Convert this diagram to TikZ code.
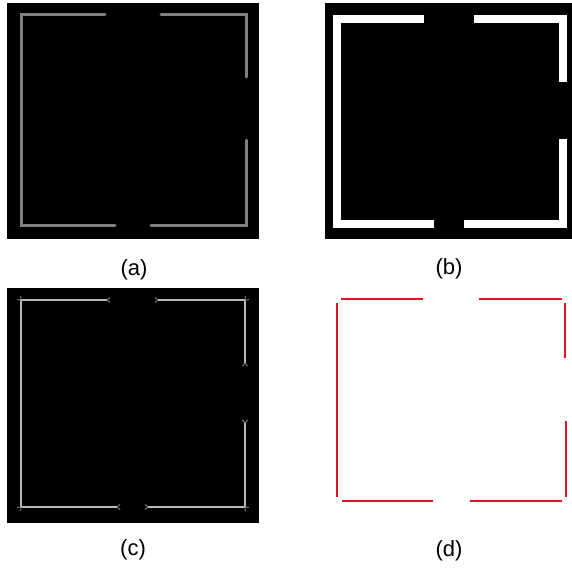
\documentclass[tikz,border=0pt]{standalone}
\usepackage{fontspec}
\setmainfont{Liberation Sans}
\definecolor{edgered}{RGB}{222,24,34}
\begin{document}
\begin{tikzpicture}[x = 1pt, y = -1pt,
        panel/.style = {color = black, fill = black},
        edgeA/.style = {color = black!50, line width = 3pt, line cap = round},
        edgeB/.style = {color = white, line width = 8pt, line cap = butt, miter limit = 10},
        edgeC/.style = {color = black!28, line width = 1.8pt},
        spurC/.style = {color = black!55, line width = 1pt},
        edgeD/.style = {color = edgered, line width = 2.6pt}]
        \useasboundingbox [fill = white] (0,0) rectangle (572,568);
        % (a)
        \draw [panel] (7,3) rectangle (258,238);
        \draw [edgeA] (105,14) -- (21,14) -- (21,225) -- (115,225);
        \draw [edgeA] (161,14) -- (246,14) -- (246,77);
        \draw [edgeA] (246,140) -- (246,225) -- (151,225);
        % (b)
        \draw [panel] (325,3) rectangle (571,238);
        \draw [edgeB] (424,19) -- (337,19) -- (337,224) -- (434,224);
        \draw [edgeB] (474,19) -- (562.5,19) -- (562.5,82);
        \draw [edgeB] (562.5,139) -- (562.5,224) -- (464,224);
        % (c)
        \draw [panel] (7,288) rectangle (258,522);
        \draw [edgeC] (107,300) -- (21,300) -- (21,507) -- (117,507);
        \draw [edgeC] (158,300) -- (245,300) -- (245,363);
        \draw [edgeC] (245,423) -- (245,507) -- (148,507);
        \foreach \px/\py/\ang in {107/300/0, 117/507/0, 158/300/180, 148/507/180,
                245/363/90, 245/423/270, 21/300/225, 21/507/135, 245/300/315, 245/507/45}
            \draw [spurC] (\px,\py) -- ++(\ang+40:4) (\px,\py) -- ++(\ang-40:4);
        % (d)
        \draw [edgeD] (341,299) -- (423,299);
        \draw [edgeD] (337,303) -- (337,497);
        \draw [edgeD] (342,501) -- (433,501);
        \draw [edgeD] (479,299) -- (562,299);
        \draw [edgeD] (565,303) -- (565,358);
        \draw [edgeD] (566,421) -- (566,497);
        \draw [edgeD] (470,501) -- (562,501);
        \begin{scope}[font = \fontsize{22}{26}\selectfont, inner sep = 0pt]
            \node (capA) [] at (134,270) {(a)};
            \node (capB) [] at (449,269) {(b)};
            \node (capC) [] at (133,550) {(c)};
            \node (capD) [] at (449,551) {(d)};
        \end{scope}
    \end{tikzpicture}
\end{document}
